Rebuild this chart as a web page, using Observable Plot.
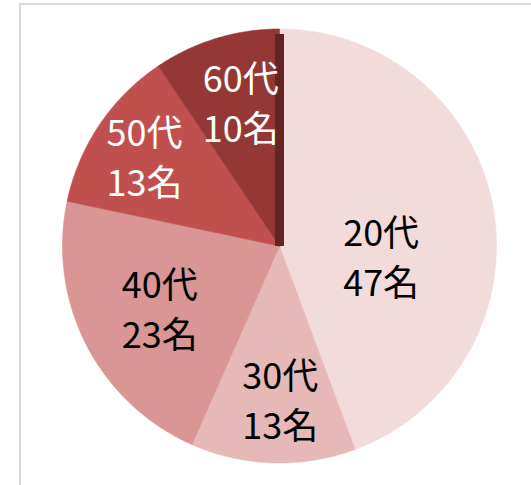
<!DOCTYPE html>
<html><head><meta charset="utf-8">
<script src="https://cdn.jsdelivr.net/npm/d3@7"></script>
<script src="https://cdn.jsdelivr.net/npm/@observablehq/plot@0.6"></script>
<style>
html,body{margin:0;padding:0;background:#fff;overflow:hidden;width:531px;height:485px}
#chart{position:absolute;left:0;top:0}
#frame{position:absolute;left:19px;top:3px;width:700px;height:700px;border:2px solid #d9d9d9;box-sizing:border-box}
</style></head>
<body><div id="chart"></div><div id="frame"></div>
<script>
const categories = ["20代","30代","40代","50代","60代"];
const counts = [47, 13, 23, 13, 10];
const unit = "名";
const sliceColors = ["#F2DCDB","#E6B9B8","#D99694","#C0504D","#953735"];
const labelColors = ["#000000","#000000","#000000","#ffffff","#ffffff"];
const edgeColor = "#632523";
const labelRadius = [0.47, 0.70, 0.62, 0.75, 0.69];
const labelShiftDeg = [15, -2, 0, 0, 2];

const arcs = d3.pie().sort(null).value(d => d)(counts);
const pt = (a, r) => ({x: r * Math.sin(a), y: r * Math.cos(a)});
const slices = arcs.map(a => {
  const pts = [{x: 0, y: 0}];
  const n = Math.max(2, Math.ceil((a.endAngle - a.startAngle) / 0.01));
  for (let k = 0; k <= n; k++) pts.push(pt(a.startAngle + (a.endAngle - a.startAngle) * k / n, 1));
  pts.push({x: 0, y: 0});
  return pts;
});
const labels = arcs.map((a, i) => {
  const mid = (a.startAngle + a.endAngle) / 2 + labelShiftDeg[i] * Math.PI / 180;
  const p = pt(mid, labelRadius[i]);
  return {x: p.x, y: p.y, text: categories[i] + "\n" + counts[i] + unit, color: labelColors[i]};
});
const last = arcs[arcs.length - 1];
const edge = [pt(last.endAngle, 0), pt(last.endAngle, 0.977)];

const chart = Plot.plot({
  width: 531,
  height: 485,
  margin: 0,
  style: {background: "none"},
  x: {domain: [-1, 1], range: [62, 496], axis: null},
  y: {domain: [-1, 1], range: [462.5, 28.5], axis: null},
  color: {type: "identity"},
  marks: [
    ...slices.map((s, i) => Plot.line(s, {x: "x", y: "y", fill: sliceColors[i], stroke: sliceColors[i], strokeWidth: 0.6})),
    Plot.line(edge, {x: "x", y: "y", stroke: edgeColor, strokeWidth: 9, strokeLinecap: "butt"}),
    Plot.text(labels, {x: "x", y: "y", text: "text", fill: "color", fontSize: 36, lineHeight: 1.39,
      fontFamily: "'Noto Sans CJK JP', 'Noto Sans', sans-serif"})
  ]
});
document.getElementById("chart").appendChild(chart);
</script>
</body></html>
